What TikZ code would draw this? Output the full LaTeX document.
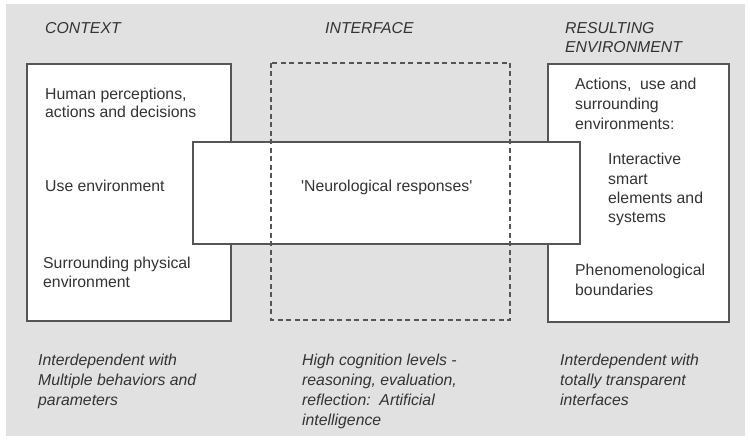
\documentclass[tikz,border=0pt]{standalone}
\usepackage{fontspec}
\setmainfont{Liberation Sans}
\definecolor{bg}{HTML}{E1E1E1}
\definecolor{ink}{HTML}{333333}
\definecolor{edge}{HTML}{555555}
\begin{document}
\begin{tikzpicture}[x=1pt,y=-1pt,
  box/.style={draw=edge, line width=1.3pt, fill=white, outer sep=0pt, inner sep=0pt, anchor=north west},
  dbox/.style={draw=edge, line width=1.2pt, dash pattern=on 5pt off 3.5pt},
  txt/.style={anchor=base west, inner sep=0pt, text=ink, font=\fontsize{15.8}{19}\selectfont},
  itxt/.style={txt, font=\fontsize{15.8}{19}\selectfont\itshape}]
\useasboundingbox (0,0) rectangle (750,443);
\fill[white] (0,0) rectangle (750,443);
\fill[bg] (6,4) rectangle (745,436);
% boxes
\node[box, minimum width=204pt, minimum height=257pt] (ctx) at (27,64) {};
\node[box, minimum width=181pt, minimum height=258pt] (res) at (548,64) {};
\node[box, minimum width=387pt, minimum height=102pt] (mid) at (193,142) {};
\coordinate (intfnw) at (271,63);
\coordinate (intfse) at (510,320);
\draw[dbox] (intfnw) rectangle (intfse);
% headers
\node[itxt] (h1) at (45,34) {CONTEXT};
\node[itxt] (h2) at (325,34) {INTERFACE};
\node[itxt] (h3a) at (565,33.5) {RESULTING};
\node[itxt] (h3b) at (565,53) {ENVIRONMENT};
% left box
\node[txt] (c1) at (45,99.5) {Human perceptions,};
\node[txt] (c2) at (45,117.5) {actions and decisions};
\node[txt] (c3) at (45,191.5) {Use environment};
\node[txt] (c4) at (43,268.5) {Surrounding physical};
\node[txt] (c5) at (43,287.5) {environment};
% middle
\node[txt] (m1) at (301,191.5) {\textquotesingle Neurological responses\textquotesingle};
% right box
\node[txt] (r1) at (575,90) {Actions,\ \ use and};
\node[txt] (r2) at (575,110) {surrounding};
\node[txt] (r3) at (575,130) {environments:};
\node[txt] (r4) at (608,165) {Interactive};
\node[txt] (r5) at (608,184.5) {smart};
\node[txt] (r6) at (608,203.5) {elements and};
\node[txt] (r7) at (608,223) {systems};
\node[txt] (r8) at (575,276) {Phenomenological};
\node[txt] (r9) at (575,295.5) {boundaries};
% bottom notes
\node[itxt] (b1) at (38,366) {Interdependent with};
\node[itxt] (b2) at (38,386) {Multiple behaviors and};
\node[itxt] (b3) at (38,406) {parameters};
\node[itxt] (b4) at (302,366) {High cognition levels -};
\node[itxt] (b5) at (302,386) {reasoning, evaluation,};
\node[itxt] (b6) at (302,406) {reflection:\ \ Artificial};
\node[itxt] (b7) at (302,426) {intelligence};
\node[itxt] (b8) at (560,366) {Interdependent with};
\node[itxt] (b9) at (560,386) {totally transparent};
\node[itxt] (b10) at (560,406) {interfaces};
\end{tikzpicture}
\end{document}
